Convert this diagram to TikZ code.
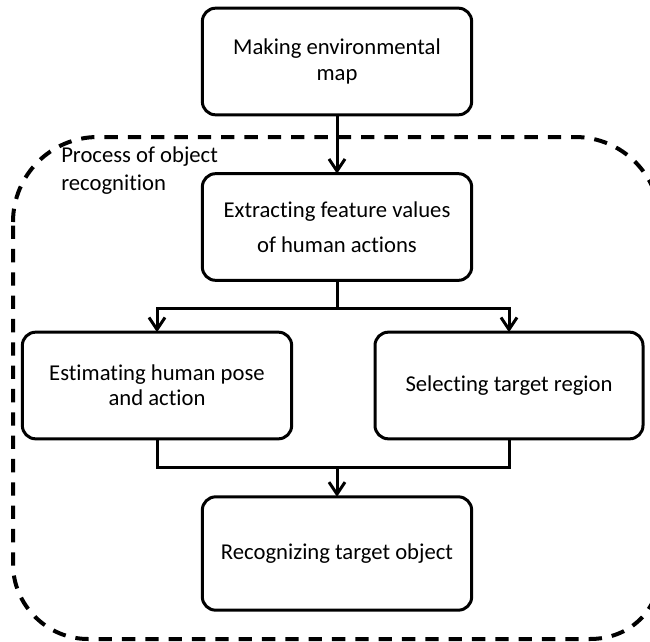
\documentclass[tikz,border=0pt]{standalone}
\usepackage{fontspec}
\setmainfont{Carlito}[Ligatures=NoCommon]
\usetikzlibrary{arrows.meta}

\tikzset{
  stepbox/.style={draw, line width=2.25pt, rounded corners=10pt, align=center,
    minimum width=202pt, minimum height=80pt, inner sep=2pt, outer sep=0pt,
    font=\fontsize{17}{19}\selectfont},
  flow/.style={line width=2.25pt, -{Straight Barb[length=9pt,width=12pt,line width=2.25pt]}},
  link/.style={line width=2.25pt},
  region/.style={line width=3pt, dash pattern={on 10pt off 7.5pt}}
}

\begin{document}
\begin{tikzpicture}[x=0.75pt,y=0.75pt,yscale=-1,xscale=1]
\path[use as bounding box] (0,0) rectangle (650,642);

%Shape: dashed region of the recognition process
\draw[region] (13,222) .. controls (13,175) and (51,137) .. (98,137) -- (575,137)
  .. controls (622,137) and (660,175) .. (660,222) -- (660,570)
  .. controls (660,610) and (630,639) .. (590,639) -- (88,639)
  .. controls (47,639) and (13,605) .. (13,564) -- cycle;

% Text Node
\node[anchor=west, align=left, inner sep=0.75pt, font=\fontsize{17}{21}\selectfont] (procname) at (60,171) {Process of object\\recognition};

%Shape: steps
\node[stepbox] (envmap) at (337,61.5) {Making environmental\\map};
\node[stepbox] (extract) at (337,227) {Extracting feature values\\[7pt]of human actions};
\node[stepbox] (estimate) at (157,385.5) {Estimating human pose\\and action};
\node[stepbox, minimum width=201pt] (select) at (509,385.5) {Selecting target region};
\node[stepbox, minimum height=85pt] (recognize) at (337,553.5) {Recognizing target object};

%Shape: junctions
\coordinate (split) at (337,308);
\coordinate (merge) at (337,467);

%Shape: connectors
\draw[flow] (envmap) -- (extract);
\draw[link] (extract.south) -- (split);
\draw[flow] (split) -| (estimate.north);
\draw[flow] (split) -| (select.north);
\draw[link] (estimate.south) |- (merge) -| (select.south);
\draw[flow] (merge) -- (recognize.north);

\end{tikzpicture}
\end{document}
